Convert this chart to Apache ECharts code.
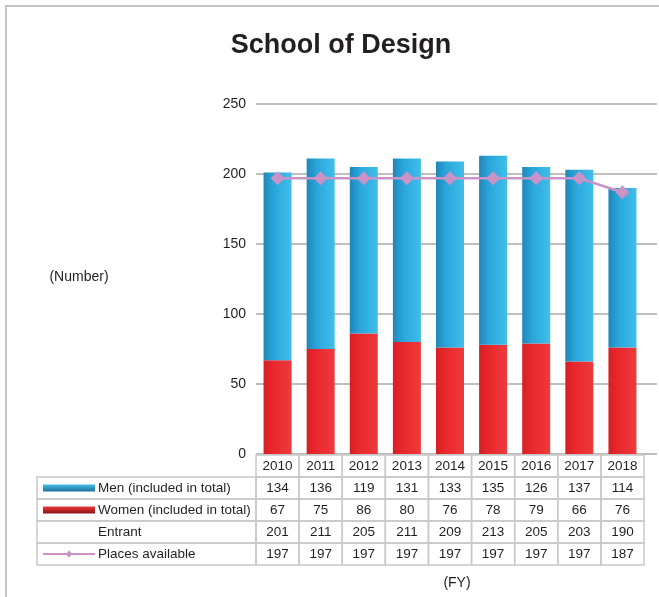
<!DOCTYPE html>
<html>
<head>
<meta charset="utf-8">
<script src="https://cdn.jsdelivr.net/npm/echarts@6/dist/echarts.min.js"></script>
<style>html,body{margin:0;padding:0;background:#fff}#c{width:659px;height:597px}</style>
</head>
<body>
<div id="c"></div>
<script>
var years = ['2010','2011','2012','2013','2014','2015','2016','2017','2018'];
var men = [134,136,119,131,133,135,126,137,114];
var women = [67,75,86,80,76,78,79,66,76];
var entrant = [201,211,205,211,209,213,205,203,190];
var places = [197,197,197,197,197,197,197,197,187];
var rowLabels = ['Men (included in total)','Women (included in total)','Entrant','Places available'];

var FONT = 'Liberation Sans, Arial, sans-serif';
var TXT = '#231f20';
var BORDER = '#c9c9c9';
var blueGrad = {type:'linear',x:0,y:0,x2:1,y2:0,colorStops:[{offset:0,color:'#1f86b8'},{offset:0.35,color:'#2aa5da'},{offset:1,color:'#3fbfea'}]};
var redGrad = {type:'linear',x:0,y:0,x2:1,y2:0,colorStops:[{offset:0,color:'#d81f24'},{offset:0.35,color:'#e8282c'},{offset:1,color:'#ef3a3c'}]};
var PINK = '#c993c8';

var chart = echarts.init(document.getElementById('c'));
var option = {
  animation:false,
  title:{text:'School of Design',left:336,top:27,textAlign:'center',textStyle:{fontFamily:FONT,fontSize:27,fontWeight:'bold',color:'#231f20'}},
  grid:[
    {left:256,right:2,top:104,bottom:143},
    {left:256,right:15,top:104,bottom:143}
  ],
  xAxis:[
    {gridIndex:0,type:'value',show:false,min:0,max:1},
    {gridIndex:1,type:'category',data:years,show:false}
  ],
  yAxis:[
    {gridIndex:0,type:'value',min:0,max:250,interval:50,
     axisLine:{show:false},axisTick:{show:false},
     axisLabel:{fontFamily:FONT,fontSize:14,color:TXT,margin:10},
     splitLine:{lineStyle:{color:'#aaaaaa',width:1.5}}},
    {gridIndex:1,type:'value',min:0,max:250,interval:50,show:false,splitLine:{show:false}}
  ],
  series:[
    {name:'Women',type:'bar',xAxisIndex:1,yAxisIndex:1,stack:'t',data:women,barWidth:28,itemStyle:{color:redGrad}},
    {name:'Men',type:'bar',xAxisIndex:1,yAxisIndex:1,stack:'t',data:men,barWidth:28,itemStyle:{color:blueGrad}},
    {name:'Places',type:'line',xAxisIndex:1,yAxisIndex:1,data:places,symbol:'diamond',symbolSize:14,z:5,
     lineStyle:{color:PINK,width:2.5},itemStyle:{color:PINK}}
  ]
};
chart.setOption(option);

// Build data table from axis pixels
var c0 = chart.convertToPixel({xAxisIndex:1},0);
var c8 = chart.convertToPixel({xAxisIndex:1},years.length-1);
var band = (c8-c0)/(years.length-1);
var colLeft = c0 - band/2;
var y0 = chart.convertToPixel({yAxisIndex:1},0) + 1;
var rowH = 22;
var legLeft = 37;
var TFS = 13.5;
var g = [];
// outer frame
g.push({type:'rect',shape:{x:6,y:6,width:720,height:720},style:{fill:'none',stroke:'#c4c4c4',lineWidth:2},silent:true});
// header row (years)
for (var i=0;i<years.length;i++){
  var x = colLeft + i*band;
  g.push({type:'rect',shape:{x:x,y:y0,width:band,height:rowH},style:{fill:'none',stroke:BORDER,lineWidth:1.5}});
  g.push({type:'text',x:x+band/2,y:y0+rowH/2,style:{text:years[i],fontFamily:FONT,fontSize:TFS,fill:TXT,align:'center',verticalAlign:'middle'}});
}
var rows = [men,women,entrant,places];
for (var r=0;r<rows.length;r++){
  var ry = y0 + rowH*(r+1);
  g.push({type:'rect',shape:{x:legLeft,y:ry,width:colLeft-legLeft,height:rowH},style:{fill:'none',stroke:BORDER,lineWidth:1.5}});
  g.push({type:'text',x:98,y:ry+rowH/2,style:{text:rowLabels[r],fontFamily:FONT,fontSize:TFS,fill:TXT,align:'left',verticalAlign:'middle'}});
  for (var i=0;i<years.length;i++){
    var x = colLeft + i*band;
    g.push({type:'rect',shape:{x:x,y:ry,width:band,height:rowH},style:{fill:'none',stroke:BORDER,lineWidth:1.5}});
    g.push({type:'text',x:x+band/2,y:ry+rowH/2,style:{text:String(rows[r][i]),fontFamily:FONT,fontSize:TFS,fill:TXT,align:'center',verticalAlign:'middle'}});
  }
}
// legend icons
var iy1 = y0 + rowH*1 + rowH/2;
var iy2 = y0 + rowH*2 + rowH/2;
var iy4 = y0 + rowH*4 + rowH/2;
g.push({type:'rect',shape:{x:43,y:iy1-3.5,width:52,height:7},style:{fill:{type:'linear',x:0,y:0,x2:0,y2:1,colorStops:[{offset:0,color:'#3fbfea'},{offset:1,color:'#1f6f9a'}]}}});
g.push({type:'rect',shape:{x:43,y:iy2-3.5,width:52,height:7},style:{fill:{type:'linear',x:0,y:0,x2:0,y2:1,colorStops:[{offset:0,color:'#ef3a3c'},{offset:1,color:'#8a1214'}]}}});
g.push({type:'line',shape:{x1:43,y1:iy4,x2:95,y2:iy4},style:{stroke:PINK,lineWidth:2}});
g.push({type:'polygon',shape:{points:[[69,iy4-3.5],[72.5,iy4],[69,iy4+3.5],[65.5,iy4]]},style:{fill:PINK}});
// axis captions
g.push({type:'text',x:79,y:277,style:{text:'(Number)',fontFamily:FONT,fontSize:14,fill:TXT,align:'center',verticalAlign:'middle'}});
g.push({type:'text',x:457,y:583,style:{text:'(FY)',fontFamily:FONT,fontSize:14,fill:TXT,align:'center',verticalAlign:'middle'}});
chart.setOption({graphic:g});
</script>
</body>
</html>
